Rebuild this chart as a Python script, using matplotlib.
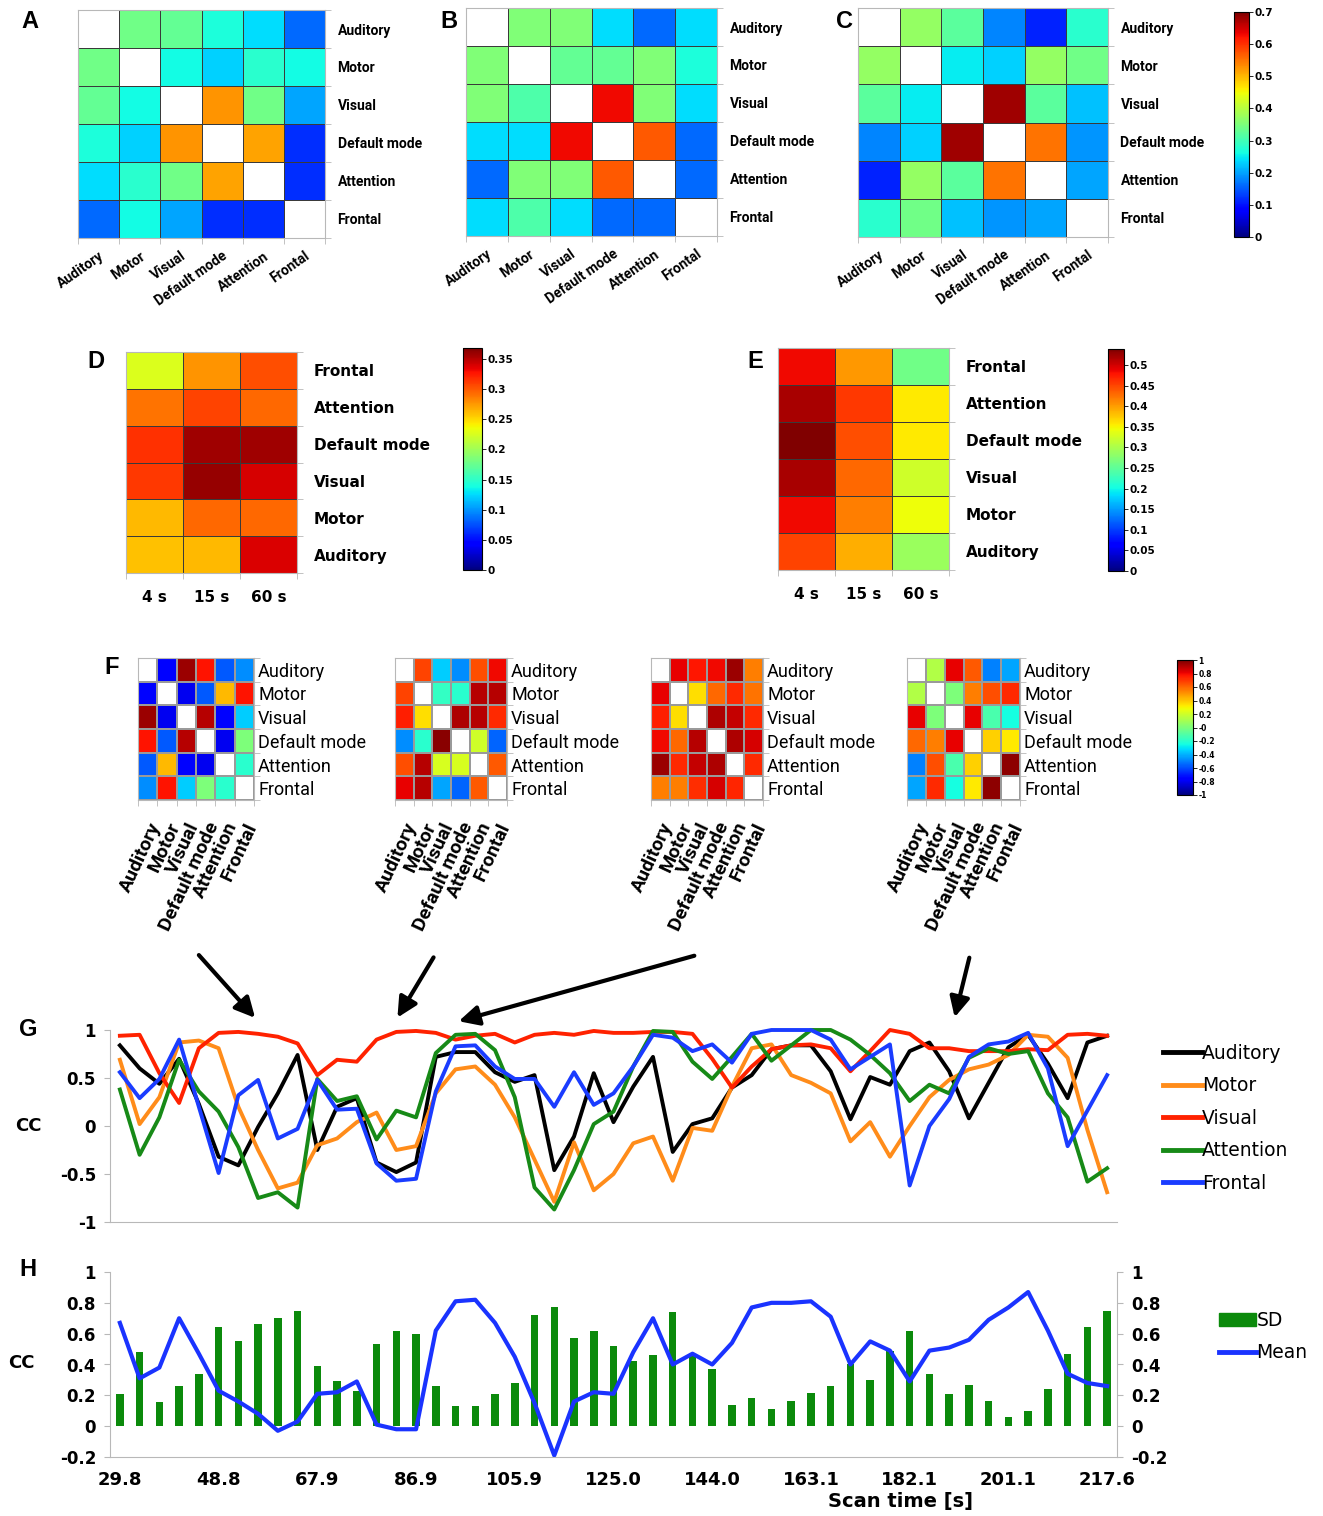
import numpy as np
import matplotlib
matplotlib.use('Agg')
import matplotlib.pyplot as plt
from matplotlib.patches import FancyArrowPatch, Patch
from matplotlib.lines import Line2D

nan = np.nan
regions = ['Auditory', 'Motor', 'Visual', 'Default mode', 'Attention', 'Frontal']
regions_rev = regions[::-1]
windows = ['4 s', '15 s', '60 s']

# static connectivity (A, B, C)
conn_a = [[nan, 0.34, 0.33, 0.27, 0.24, 0.16],
          [0.34, nan, 0.26, 0.23, 0.28, 0.26],
          [0.33, 0.26, nan, 0.525, 0.34, 0.20],
          [0.27, 0.23, 0.525, nan, 0.515, 0.12],
          [0.24, 0.28, 0.34, 0.515, nan, 0.12],
          [0.16, 0.26, 0.20, 0.12, 0.12, nan]]
conn_b = [[nan, 0.355, 0.355, 0.24, 0.16, 0.24],
          [0.355, nan, 0.33, 0.33, 0.355, 0.27],
          [0.355, 0.31, nan, 0.63, 0.355, 0.24],
          [0.24, 0.24, 0.63, nan, 0.57, 0.16],
          [0.16, 0.355, 0.355, 0.57, nan, 0.16],
          [0.24, 0.31, 0.24, 0.16, 0.16, nan]]
conn_c = [[nan, 0.37, 0.32, 0.18, 0.11, 0.28],
          [0.37, nan, 0.25, 0.23, 0.37, 0.34],
          [0.32, 0.25, nan, 0.68, 0.32, 0.22],
          [0.18, 0.23, 0.68, nan, 0.55, 0.19],
          [0.11, 0.37, 0.32, 0.55, nan, 0.20],
          [0.28, 0.34, 0.22, 0.19, 0.20, nan]]

# window-length maps (D, E), rows Frontal..Auditory
win_d = [[0.226, 0.276, 0.304],
         [0.290, 0.308, 0.294],
         [0.316, 0.357, 0.357],
         [0.313, 0.360, 0.340],
         [0.262, 0.294, 0.294],
         [0.260, 0.262, 0.338]]
win_e = [[0.485, 0.404, 0.263],
         [0.518, 0.458, 0.357],
         [0.539, 0.445, 0.357],
         [0.518, 0.431, 0.323],
         [0.485, 0.418, 0.345],
         [0.452, 0.390, 0.290]]

# dynamic snapshots (F)
snap1 = [[nan, -0.75, 0.95, 0.78, -0.575, -0.475],
         [-0.75, nan, -0.8, -0.575, 0.425, 0.78],
         [0.95, -0.8, nan, 0.9, -0.75, -0.35],
         [0.78, -0.575, 0.9, nan, -0.8, 0.0],
         [-0.575, 0.425, -0.75, -0.8, nan, -0.2],
         [-0.475, 0.78, -0.35, 0.0, -0.2, nan]]
snap2 = [[nan, 0.675, -0.35, -0.475, 0.65, 0.8],
         [0.675, nan, -0.175, -0.2, 0.9, 0.9],
         [0.75, 0.35, nan, 0.92, 0.9, 0.73],
         [-0.475, -0.2, 0.98, nan, 0.2, -0.55],
         [0.65, 0.9, 0.22, 0.22, nan, 0.625],
         [0.82, 0.9, -0.425, -0.55, 0.625, nan]]
snap3 = [[nan, 0.82, 0.77, 0.8, 0.95, 0.55],
         [0.82, nan, 0.35, 0.6, 0.73, 0.575],
         [0.75, 0.35, nan, 0.92, 0.88, 0.73],
         [0.8, 0.6, 0.9, nan, 0.92, 0.85],
         [0.95, 0.73, 0.88, 0.92, nan, 0.73],
         [0.55, 0.55, 0.72, 0.85, 0.74, nan]]
snap4 = [[nan, 0.125, 0.82, 0.625, -0.5, -0.425],
         [0.125, nan, 0.0, 0.55, 0.65, 0.73],
         [0.82, 0.0, nan, 0.82, -0.125, -0.25],
         [0.6, 0.55, 0.82, nan, 0.375, 0.325],
         [-0.5, 0.65, -0.125, 0.375, nan, 0.97],
         [-0.425, 0.73, -0.25, 0.325, 0.97, nan]]

# sliding-window CC with default mode (G)
cc_auditory = [0.84, 0.60, 0.44, 0.70, 0.23, -0.32, -0.41, -0.01, 0.34, 0.74,
               -0.25, 0.20, 0.29, -0.38, -0.48, -0.38, 0.72, 0.77, 0.77, 0.56,
               0.46, 0.53, -0.46, -0.11, 0.55, 0.04, 0.41, 0.72, -0.27, 0.02,
               0.08, 0.40, 0.53, 0.80, 0.84, 0.84, 0.57, 0.07, 0.51, 0.43,
               0.78, 0.87, 0.57, 0.08, 0.45, 0.82, 0.95, 0.65, 0.29, 0.87, 0.94]
cc_motor = [0.69, 0.02, 0.30, 0.87, 0.89, 0.81, 0.20, -0.25, -0.65, -0.59,
            -0.20, -0.13, 0.04, 0.14, -0.25, -0.21, 0.34, 0.59, 0.62, 0.43,
            0.09, -0.35, -0.79, -0.17, -0.67, -0.50, -0.18, -0.11, -0.57, -0.02,
            -0.05, 0.41, 0.81, 0.85, 0.53, 0.45, 0.34, -0.16, 0.04, -0.32,
            0.00, 0.30, 0.48, 0.59, 0.64, 0.74, 0.95, 0.93, 0.71, -0.04, -0.69]
cc_visual = [0.94, 0.95, 0.55, 0.24, 0.81, 0.97, 0.98, 0.96, 0.93, 0.86,
             0.53, 0.69, 0.67, 0.90, 0.98, 0.99, 0.97, 0.90, 0.94, 0.96,
             0.87, 0.95, 0.97, 0.95, 0.99, 0.97, 0.97, 0.98, 0.98, 0.96,
             0.70, 0.40, 0.62, 0.80, 0.84, 0.85, 0.81, 0.57, 0.78, 1.00,
             0.96, 0.81, 0.81, 0.78, 0.78, 0.78, 0.80, 0.79, 0.95, 0.96, 0.94]
cc_attention = [0.38, -0.30, 0.09, 0.69, 0.36, 0.15, -0.22, -0.75, -0.69, -0.85,
                0.49, 0.26, 0.31, -0.14, 0.16, 0.09, 0.76, 0.95, 0.96, 0.79,
                0.30, -0.64, -0.87, -0.46, 0.02, 0.15, 0.62, 0.99, 0.98, 0.67,
                0.49, 0.72, 0.96, 0.68, 0.84, 1.00, 1.00, 0.90, 0.74, 0.55,
                0.26, 0.43, 0.34, 0.71, 0.81, 0.75, 0.78, 0.34, 0.09, -0.58, -0.44]
cc_frontal = [0.56, 0.29, 0.49, 0.90, 0.20, -0.49, 0.32, 0.48, -0.13, -0.03,
              0.48, 0.17, 0.18, -0.39, -0.57, -0.55, 0.36, 0.83, 0.84, 0.62,
              0.49, 0.49, 0.20, 0.56, 0.22, 0.34, 0.62, 0.95, 0.92, 0.78,
              0.85, 0.66, 0.96, 1.00, 1.00, 1.00, 0.90, 0.59, 0.72, 0.85,
              -0.62, 0.00, 0.28, 0.72, 0.85, 0.88, 0.97, 0.60, -0.21, 0.16, 0.53]

# SD and mean across networks (H)
cc_sd = [0.21, 0.48, 0.155, 0.26, 0.34, 0.64, 0.55, 0.66, 0.70, 0.75,
         0.39, 0.29, 0.23, 0.53, 0.62, 0.60, 0.26, 0.13, 0.13, 0.21,
         0.28, 0.72, 0.77, 0.57, 0.62, 0.52, 0.42, 0.46, 0.74, 0.47,
         0.37, 0.14, 0.18, 0.11, 0.165, 0.215, 0.26, 0.40, 0.30, 0.49,
         0.62, 0.34, 0.21, 0.27, 0.16, 0.06, 0.10, 0.24, 0.47, 0.64, 0.75]
cc_mean = [0.67, 0.31, 0.38, 0.70, 0.47, 0.23, 0.16, 0.08, -0.03, 0.03,
           0.21, 0.22, 0.29, 0.01, -0.02, -0.02, 0.62, 0.81, 0.82, 0.67,
           0.45, 0.15, -0.19, 0.16, 0.22, 0.21, 0.48, 0.70, 0.40, 0.47,
           0.40, 0.54, 0.77, 0.80, 0.80, 0.81, 0.71, 0.40, 0.55, 0.49,
           0.29, 0.49, 0.51, 0.56, 0.69, 0.77, 0.87, 0.62, 0.34, 0.28, 0.26]
time_labels = ['29.8', '48.8', '67.9', '86.9', '105.9', '125.0',
               '144.0', '163.1', '182.1', '201.1', '217.6']

W, H = 1323, 1516
def px(x0, y0, x1, y1):
    return [x0 / W, 1 - y1 / H, (x1 - x0) / W, (y1 - y0) / H]
def pt(x, y):
    return (x / W, 1 - y / H)

fig = plt.figure(figsize=(W / 100, H / 100), dpi=100)
jet = plt.get_cmap('jet').with_extremes(bad='white')
GRAY = '#b8b8b8'

def frame(ax, nx, ny):
    for s in ax.spines.values():
        s.set_color(GRAY)
    ax.set_xticks(np.arange(nx + 1), minor=True)
    ax.set_yticks(np.arange(ny + 1), minor=True)
    ax.tick_params(which='minor', length=4, color=GRAY, direction='out',
                   right=True, left=False)
    ax.tick_params(which='major', length=0)

def cbar(mappable, box, ticks, size=7.5):
    cax = fig.add_axes(px(*box))
    cb = fig.colorbar(mappable, cax=cax, ticks=ticks)
    cb.ax.set_yticklabels([f'{t:g}' for t in ticks], fontsize=size,
                          fontweight='bold')
    cb.ax.tick_params(length=3, width=0.6, pad=1)
    cb.outline.set_linewidth(0.8)
    return cb

def draw_static(box, M):
    ax = fig.add_axes(px(*box))
    n = len(regions)
    m = ax.pcolormesh(np.arange(n + 1), np.arange(n + 1), np.ma.masked_invalid(M),
                      cmap=jet, vmin=0, vmax=0.7, edgecolors='#3a3a3a', linewidth=0.6)
    ax.set_xlim(0, n)
    ax.set_ylim(n, 0)
    ax.set_xticks(np.arange(n) + 0.5)
    ax.set_xticklabels(regions, rotation=35, ha='right', rotation_mode='anchor',
                       family='Roboto', fontweight='bold', fontsize=10)
    ax.yaxis.tick_right()
    ax.set_yticks(np.arange(n) + 0.5)
    ax.set_yticklabels(regions, family='Roboto', fontweight='bold', fontsize=10)
    frame(ax, n, n)
    ax.tick_params(axis='y', which='major', pad=9)
    ax.tick_params(axis='x', which='major', pad=8)
    return m

def draw_window(box, M, vmax):
    ax = fig.add_axes(px(*box))
    m = ax.pcolormesh(np.arange(4), np.arange(7), np.array(M), cmap=jet,
                      vmin=0, vmax=vmax, edgecolors='#3a3a3a', linewidth=0.6)
    ax.set_xlim(0, 3)
    ax.set_ylim(6, 0)
    ax.set_xticks(np.arange(3) + 0.5)
    ax.set_xticklabels(windows, fontweight='bold', fontsize=11)
    ax.yaxis.tick_right()
    ax.set_yticks(np.arange(6) + 0.5)
    ax.set_yticklabels(regions_rev, fontweight='bold', fontsize=11)
    frame(ax, 3, 6)
    ax.tick_params(axis='y', which='major', pad=12)
    ax.tick_params(axis='x', which='major', pad=12)
    return m

def draw_snap(box, M):
    ax = fig.add_axes(px(*box))
    n = len(regions)
    m = ax.pcolormesh(np.arange(n + 1), np.arange(n + 1), np.ma.masked_invalid(M),
                      cmap=jet, vmin=-1, vmax=1, edgecolors='#9a9a9a', linewidth=0.3)
    ax.set_xlim(0, n)
    ax.set_ylim(n, 0)
    ax.set_xticks(np.arange(n) + 0.5)
    ax.set_xticklabels(regions, rotation=65, ha='right', rotation_mode='anchor',
                       family='Roboto', fontweight='bold', fontsize=14)
    ax.yaxis.tick_right()
    ax.set_yticks(np.arange(n) + 0.5)
    ax.set_yticklabels(regions, family='Roboto', fontsize=13)
    frame(ax, n, n)
    ax.tick_params(axis='y', which='major', pad=3)
    ax.tick_params(axis='x', which='major', pad=14)
    return m

# A, B, C
draw_static((78, 10, 325, 238), conn_a)
draw_static((466, 8, 717, 236), conn_b)
mc = draw_static((858, 8, 1108, 237), conn_c)
cbar(mc, (1234, 12, 1249, 237), np.round(np.arange(0, 0.71, 0.1), 1))

# D, E
md = draw_window((126, 352, 297, 573), win_d, 0.368)
cbar(md, (463, 348, 482, 570), np.round(np.arange(0, 0.36, 0.05), 2))
me = draw_window((778, 348, 949, 570), win_e, 0.539)
cbar(me, (1108, 349, 1124, 571), np.round(np.arange(0, 0.51, 0.05), 2))

# F
mf = draw_snap((138, 658, 254, 800), snap1)
draw_snap((395, 658, 507, 800), snap2)
draw_snap((651, 658, 763, 800), snap3)
draw_snap((907, 658, 1020, 800), snap4)
cbar(mf, (1177, 660, 1193, 795), np.round(np.arange(-1, 1.01, 0.2), 1), size=5.5)

# arrows from snapshots to time course
for tail, head in [((197, 953), (257, 1020)), ((435, 955), (396, 1020)),
                   ((697, 955), (456, 1022)), ((970, 955), (954, 1020))]:
    fig.add_artist(FancyArrowPatch(pt(*tail), pt(*head), transform=fig.transFigure,
                                   arrowstyle='-|>', mutation_scale=30, lw=3,
                                   color='black'))

# G
x = np.arange(len(cc_sd))
axg = fig.add_axes(px(110, 1030, 1117, 1222))
series = [('Auditory', cc_auditory, '#000000'), ('Motor', cc_motor, '#ff8c1a'),
          ('Visual', cc_visual, '#ff2200'), ('Attention', cc_attention, '#178a17'),
          ('Frontal', cc_frontal, '#1a3cff')]
for name, vals, col in series:
    axg.plot(x, vals, color=col, lw=2.8, label=name, clip_on=False)
axg.set_xlim(-0.5, len(x) - 0.5)
axg.set_ylim(-1, 1)
axg.set_yticks([-1, -0.5, 0, 0.5, 1])
axg.set_yticklabels(['-1', '-0.5', '0', '0.5', '1'], fontweight='bold', fontsize=12)
axg.set_xticks([])
for s in ['top', 'right']:
    axg.spines[s].set_visible(False)
for s in ['left', 'bottom']:
    axg.spines[s].set_color(GRAY)
axg.tick_params(axis='y', length=4, color=GRAY, pad=6)
fig.legend(handles=[Line2D([], [], color=c, lw=3.5) for _, _, c in series],
           labels=[n for n, _, _ in series], loc='upper left',
           bbox_to_anchor=pt(1146, 1027), frameon=False, fontsize=13.5,
           handlelength=2.1, handletextpad=0.0, labelspacing=0.72)

# H
axh = fig.add_axes(px(110, 1272, 1117, 1457))
axh.bar(x, cc_sd, width=0.38, color='#0b8a0b')
axh.plot(x, cc_mean, color='#1a33ff', lw=3, clip_on=False)
axh.set_xlim(-0.5, len(x) - 0.5)
axh.set_ylim(-0.2, 1)
hticks = np.round(np.arange(-0.2, 1.01, 0.2), 1)
axh.set_yticks(hticks)
axh.set_yticklabels([f'{t:g}' for t in hticks], fontweight='bold', fontsize=12)
axh.tick_params(axis='y', length=4, color=GRAY, pad=6, right=True, labelright=True)
axh.set_xticks(x[::5])
axh.set_xticklabels(time_labels, fontweight='bold', fontsize=13)
axh.tick_params(axis='x', length=0, pad=10)
axh.spines['top'].set_visible(False)
for s in ['left', 'bottom', 'right']:
    axh.spines[s].set_color(GRAY)
fig.legend(handles=[Patch(color='#0b8a0b'), Line2D([], [], color='#1a33ff', lw=3.5)],
           labels=['SD', 'Mean'], loc='upper left', bbox_to_anchor=pt(1202, 1294),
           frameon=False, fontsize=13.5, handlelength=2.0, handletextpad=0.0,
           labelspacing=0.72)
fig.text(*pt(900, 1502), 'Scan time [s]', ha='center', va='center',
         fontweight='bold', fontsize=14)

# panel letters and axis names
for letter, xy in [('A', (30, 22)), ('B', (449, 22)), ('C', (845, 22)),
                   ('D', (96, 362)), ('E', (755, 362)), ('F', (112, 667)),
                   ('G', (28, 1030)), ('H', (28, 1270))]:
    fig.text(*pt(*xy), letter, ha='center', va='center', family='Liberation Sans',
             fontweight='bold', fontsize=17)
fig.text(*pt(28, 1126), 'CC', ha='center', va='center', fontweight='bold', fontsize=13)
fig.text(*pt(21, 1363), 'CC', ha='center', va='center', fontweight='bold', fontsize=13)

fig.savefig('out.png', dpi=100, facecolor='white')
